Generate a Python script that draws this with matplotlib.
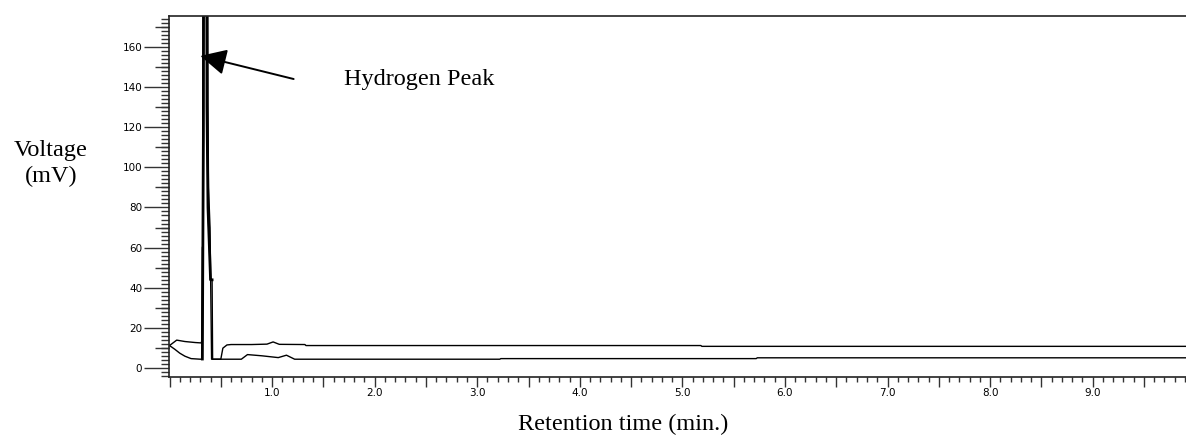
import numpy as np
import matplotlib.pyplot as plt
from matplotlib.ticker import MultipleLocator, FixedLocator, FuncFormatter

# Chromatogramm, zwei Läufe
zeit_a = [0.0, 0.07, 0.15, 0.25, 0.31, 0.315, 0.32, 0.325, 0.33, 0.37, 0.375,
          0.38, 0.395, 0.41, 0.50, 0.52, 0.56, 0.60, 0.80, 0.95, 1.01, 1.07,
          1.32, 1.33, 5.18, 5.19, 9.95]
spannung_a = [11.3, 14.0, 13.3, 12.8, 12.6, 14.0, 60.0, 61.0, 300.0, 300.0, 132.0,
              90.0, 70.0, 4.5, 4.5, 10.0, 11.6, 11.8, 11.8, 12.0, 13.1, 11.9,
              11.8, 11.3, 11.3, 10.9, 10.9]

zeit_b = [0.0, 0.05, 0.10, 0.15, 0.21, 0.30, 0.32, 0.325, 0.33, 0.335, 0.36,
          0.365, 0.375, 0.40, 0.415, 0.42, 0.70, 0.76, 0.90, 1.06, 1.14, 1.22,
          3.22, 3.23, 5.72, 5.73, 9.95]
spannung_b = [11.3, 9.5, 7.5, 6.0, 4.8, 4.5, 4.6, 60.0, 115.0, 300.0, 300.0,
              130.0, 80.0, 44.0, 44.0, 4.5, 4.5, 6.8, 6.2, 5.3, 6.5, 4.5,
              4.5, 4.8, 4.8, 5.2, 5.2]

fig = plt.figure(figsize=(11.86, 4.37), dpi=100)
ax = fig.add_axes([168.5 / 1186, 1 - 376.7 / 437, 1 - 168.5 / 1186, (376.7 - 15.7) / 437])

ax.plot(zeit_a, spannung_a, color='black', lw=1.0)
ax.plot(zeit_b, spannung_b, color='black', lw=1.0)
# Peakbereich wirkt im Original dicker
ax.plot(zeit_b[6:15], spannung_b[6:15], color='black', lw=2.0)

ax.set_xlim(-0.01, 9.91)
ax.set_ylim(-4.2, 175.4)

for s in ['left', 'bottom', 'top']:
    ax.spines[s].set_linewidth(1.2)
    ax.spines[s].set_color('#222222')
ax.spines['right'].set_visible(False)

# x-Achse: Beschriftung bei ganzen Minuten, Striche alle 0.5 und 0.1
ax.xaxis.set_major_locator(MultipleLocator(0.5))
ax.xaxis.set_minor_locator(MultipleLocator(0.1))
ax.xaxis.set_major_formatter(FuncFormatter(
    lambda v, p: '%.1f' % v if abs(v - round(v)) < 1e-6 and round(v) > 0 else ''))
ax.tick_params(axis='x', which='major', direction='out', length=7.2, width=1.0,
               pad=1.0, labelsize=7.5, color='#333333')
ax.tick_params(axis='x', which='minor', direction='out', length=3.4, width=1.0,
               color='#333333')

# y-Achse: Beschriftung alle 20, mittlere Striche alle 10, kleine alle 2
ax.yaxis.set_major_locator(MultipleLocator(20))
ax.yaxis.set_minor_locator(MultipleLocator(2))
ax.tick_params(axis='y', which='major', direction='out', length=18, width=1.0,
               pad=1.0, labelsize=7.5, color='#333333')
ax.tick_params(axis='y', which='minor', direction='out', length=5.8, width=1.0,
               color='#333333')

ax2 = ax.secondary_yaxis('left')
ax2.yaxis.set_major_locator(FixedLocator(np.arange(10, 180, 20)))
ax2.tick_params(axis='y', direction='out', length=10, width=1.0,
                labelleft=False, color='#333333')
ax2.spines['left'].set_visible(False)

# Pfeil und Beschriftung
ax.annotate('', xy=(0.30, 155.4), xytext=(1.21, 143.9),
            arrowprops=dict(arrowstyle='-|>,head_length=1.0,head_width=0.5',
                            mutation_scale=16, color='black', lw=1.4,
                            shrinkA=0, shrinkB=0))
ax.text(1.70, 141, 'Hydrogen Peak', family='Liberation Serif', fontsize=17.5,
        va='baseline', ha='left')

fig.text(51 / 1186, 1 - 164 / 437, 'Voltage\n(mV)', family='Liberation Serif',
         fontsize=17.5, ha='center', va='center', linespacing=1.3)
fig.text(623 / 1186, 1 - 424 / 437, 'Retention time (min.)', family='Liberation Serif',
         fontsize=17.5, ha='center', va='center')

fig.savefig('out.png', dpi=100)
